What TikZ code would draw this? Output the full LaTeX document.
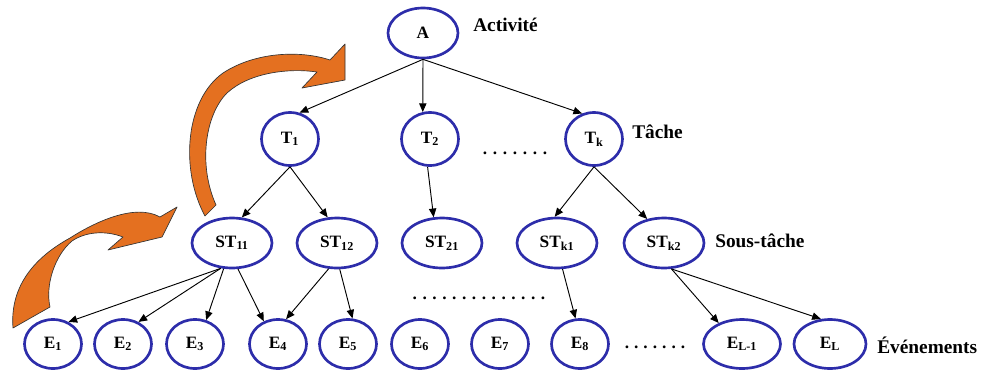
\documentclass[tikz,border=0pt]{standalone}
\usepackage{fontspec}
\setmainfont{Liberation Serif}
\usetikzlibrary{shapes.geometric,arrows.meta}
\definecolor{ringblue}{RGB}{45,45,170}
\definecolor{flow}{RGB}{228,112,32}
% a row of n evenly spaced dots, one every #2
\newcommand\dotrow[2]{\hbox to \dimexpr #2*#1\relax{\xleaders\hbox to #2{\hss.\hss}\hfill}}

\begin{document}
\begin{tikzpicture}[x=0.75pt,y=-0.75pt,
  base/.style={ellipse,draw=ringblue,line width=2pt,inner sep=0pt,
    font=\fontsize{13}{15}\selectfont\bfseries},
  topnode/.style={base,minimum width=52.5pt,minimum height=37.5pt},
  tasknode/.style={base,minimum width=42.75pt,minimum height=39.75pt},
  subnode/.style={base,minimum width=60pt,minimum height=37.5pt},
  evnode/.style={base,minimum width=42.75pt,minimum height=36.75pt},
  levellabel/.style={anchor=base west,inner sep=0pt,
    font=\fontsize{14.5}{17}\selectfont\bfseries},
  dotlabel/.style={inner sep=0pt,anchor=base,
    font=\fontsize{13}{15}\selectfont\bfseries},
  link/.style={draw=black,line width=0.7pt,-{Triangle[length=6.5pt,width=5.5pt]}},
  curl/.style={fill=flow,draw=black!80,line width=0.5pt,line join=round}]
\useasboundingbox (0,0) rectangle (982,372);

% curved orange arrows (decomposition direction)
\path[curl] (205,216) .. controls (180,170) and (185,100) .. (223,73)
  .. controls (255,52) and (300,50) .. (330,60) -- (345,44) -- (345,80)
  -- (302,88) -- (317,72) .. controls (290,68) and (250,72) .. (227,93)
  .. controls (205,115) and (198,165) .. (216,205) -- cycle;
\path[curl] (13,328) .. controls (10,290) and (30,260) .. (70,238)
  .. controls (95,222) and (135,203) .. (160,217) -- (177,207) -- (162,237)
  -- (108,250) -- (123,237) .. controls (105,230) and (85,232) .. (72,241)
  .. controls (55,255) and (45,285) .. (50,307) -- cycle;

% activity
\node[topnode] (A) at (423,33) {A};
% tasks
\node[tasknode] (T1) at (290,139) {T\textsubscript{1}};
\node[tasknode] (T2) at (430,139) {T\textsubscript{2}};
\node[tasknode] (Tk) at (594,139) {T\textsubscript{k}};
% sub-tasks
\node[subnode] (ST11) at (232,243) {ST\textsubscript{11}};
\node[subnode] (ST12) at (337,243) {ST\textsubscript{12}};
\node[subnode] (ST21) at (442,243) {ST\textsubscript{21}};
\node[subnode] (STk1) at (557,243) {ST\textsubscript{k1}};
\node[subnode] (STk2) at (664,243) {ST\textsubscript{k2}};
% events
\node[evnode] (E1) at (53,344) {E\textsubscript{1}};
\node[evnode] (E2) at (123,344) {E\textsubscript{2}};
\node[evnode] (E3) at (195,344) {E\textsubscript{3}};
\node[evnode] (E4) at (278,344) {E\textsubscript{4}};
\node[evnode] (E5) at (348,344) {E\textsubscript{5}};
\node[evnode] (E6) at (420,344) {E\textsubscript{6}};
\node[evnode] (E7) at (500,344) {E\textsubscript{7}};
\node[evnode] (E8) at (580,344) {E\textsubscript{8}};
\node[evnode,minimum width=57.75pt] (ELm) at (742,344) {E\textsubscript{L-1}};
\node[evnode,minimum width=54pt] (EL) at (830,344) {E\textsubscript{L}};

% level names
\node[levellabel] (actlabel) at (473,31) {Activité};
\node[levellabel] (tasklabel) at (632,138) {Tâche};
\node[levellabel] (sublabel) at (715,247) {Sous-tâche};
\node[levellabel] (evlabel) at (877,353) {Événements};

% ellipsis dots
\node[dotlabel] (dotsT) at (515,154) {\dotrow{7}{7.5pt}};
\node[dotlabel] (dotsS) at (479,299) {\dotrow{14}{7.4pt}};
\node[dotlabel] (dotsE) at (655,348) {\dotrow{7}{7pt}};

% hierarchy links
\draw[link] (A.south) -- (T1.70);
\draw[link] (A.south) -- (T2.105);
\draw[link] (A.south) -- (Tk.115);
\draw[link] (T1.south) -- (ST11.69);
\draw[link] (T1.south) -- (ST12.110);
\draw[link] (T2.265) -- (ST21.108);
\draw[link] (Tk.south) -- (STk1.95);
\draw[link] (Tk.south) -- (STk2.125);
\draw[link] (ST11.246) -- (E1.55);
\draw[link] (ST11.246) -- (E2.55);
\draw[link] (ST11.252) -- (E3.65);
\draw[link] (ST11.283) -- (E4.122);
\draw[link] (ST12.252) -- (E4.72);
\draw[link] (ST12.276) -- (E5.80);
\draw[link] (STk1.282) -- (E8.100);
\draw[link] (STk2.286) -- (ELm.138);
\draw[link] (STk2.286) -- (EL.110);
\end{tikzpicture}
\end{document}
